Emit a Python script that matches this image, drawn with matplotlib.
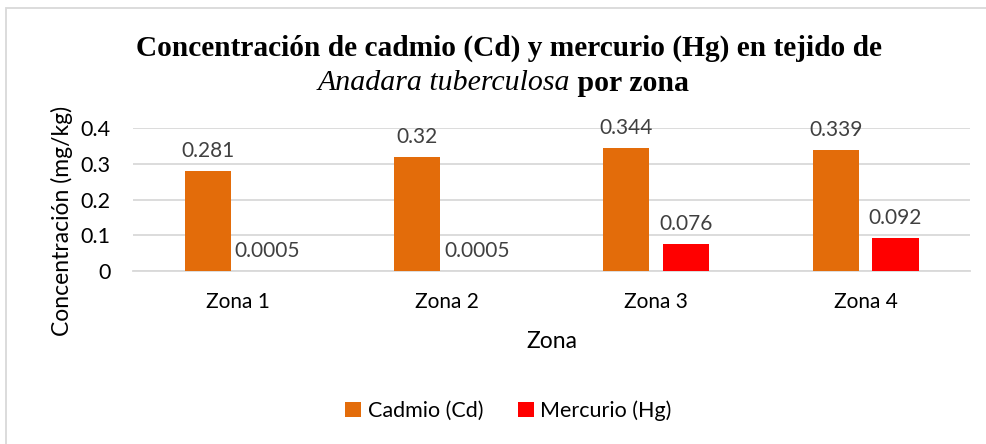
import matplotlib
matplotlib.use("Agg")
import matplotlib.pyplot as plt
import numpy as np
from matplotlib.patches import Rectangle

zonas = ["Zona 1", "Zona 2", "Zona 3", "Zona 4"]
cadmio = [0.281, 0.32, 0.344, 0.339]
mercurio = [0.0005, 0.0005, 0.076, 0.092]
cadmio_labels = ["0.281", "0.32", "0.344", "0.339"]
mercurio_labels = ["0.0005", "0.0005", "0.076", "0.092"]
yticks = [0, 0.1, 0.2, 0.3, 0.4]
ytick_labels = ["0", "0.1", "0.2", "0.3", "0.4"]

sans = ["Lato", "DejaVu Sans"]
fig = plt.figure(figsize=(9.87, 4.44), dpi=100)
ax = fig.add_axes([0.1348, 0.3896, 0.983 - 0.1348, 0.7117 - 0.3896])

x = np.arange(len(zonas))
w = 0.22
off = 0.143
b1 = ax.bar(x - off, cadmio, w, color="#E36C0A", label="Cadmio (Cd)", zorder=3)
b2 = ax.bar(x + off, mercurio, w, color="#FF0000", label="Mercurio (Hg)", zorder=3)

for xi, v, t in zip(x - off, cadmio, cadmio_labels):
    ax.annotate(t, (xi, v), xytext=(0, 7), textcoords="offset points",
                ha="center", va="bottom", fontsize=15, color="#404040", family=sans)
for xi, v, t in zip(x + off, mercurio, mercurio_labels):
    ax.annotate(t, (xi, v), xytext=(0, 7), textcoords="offset points",
                ha="center", va="bottom", fontsize=15, color="#404040", family=sans)

ax.set_xlim(-0.5, 3.5)
ax.set_ylim(0, 0.4)
ax.set_yticks(yticks)
ax.set_yticklabels(ytick_labels, fontsize=15.5, family=sans)
ax.set_xticks(x)
ax.set_xticklabels(zonas, fontsize=15, family=sans)
ax.tick_params(axis="both", length=0, colors="#000000")
ax.tick_params(axis="y", pad=16)
ax.tick_params(axis="x", pad=15)
ax.grid(axis="y", color="#D9D9D9", linewidth=1.3, zorder=0)
for s in ["top", "right", "left"]:
    ax.spines[s].set_visible(False)
ax.spines["bottom"].set_color("#D9D9D9")
ax.spines["bottom"].set_linewidth(1.3)

ax.set_xlabel("Zona", fontsize=16.5, family=sans, labelpad=14)
fig.text(0.063, 0.502, "Concentración (mg/kg)", rotation=90, ha="center", va="center",
         fontsize=16.5, family=sans)

fig.text(0.516, 0.892, "Concentración de cadmio (Cd) y mercurio (Hg) en tejido de",
         ha="center", va="center", fontsize=21.2, fontweight="bold", family="Liberation Serif")
t1 = fig.text(0.5, 0.813, "Anadara tuberculosa", ha="right", va="center",
              fontsize=21.5, fontstyle="italic", family="Liberation Serif")
fig.canvas.draw()
r = fig.canvas.get_renderer()
bb1 = t1.get_window_extent(r)
t2 = fig.text(0, 0.813, " por zona", ha="left", va="center",
              fontsize=21.5, fontweight="bold", family="Liberation Serif")
bb2 = t2.get_window_extent(r)
total = bb1.width + bb2.width
W = fig.bbox.width
start = (W - total) / 2 + 10
t1.set_x((start + bb1.width) / W)
t2.set_x((start + bb1.width) / W)

fig.legend(handles=[b1, b2], loc="center", bbox_to_anchor=(0.515, 0.075), ncol=2,
           frameon=False, prop={"family": sans, "size": 15.5}, handlelength=0.75,
           handleheight=0.75, columnspacing=1.6, handletextpad=0.3)

fig.patches.append(Rectangle((6 / 987, -0.1), 1.2, 1.1 - 8 / 444, transform=fig.transFigure,
                             fill=False, edgecolor="#D9D9D9", linewidth=1.3))
fig.savefig("out.png", dpi=100)
